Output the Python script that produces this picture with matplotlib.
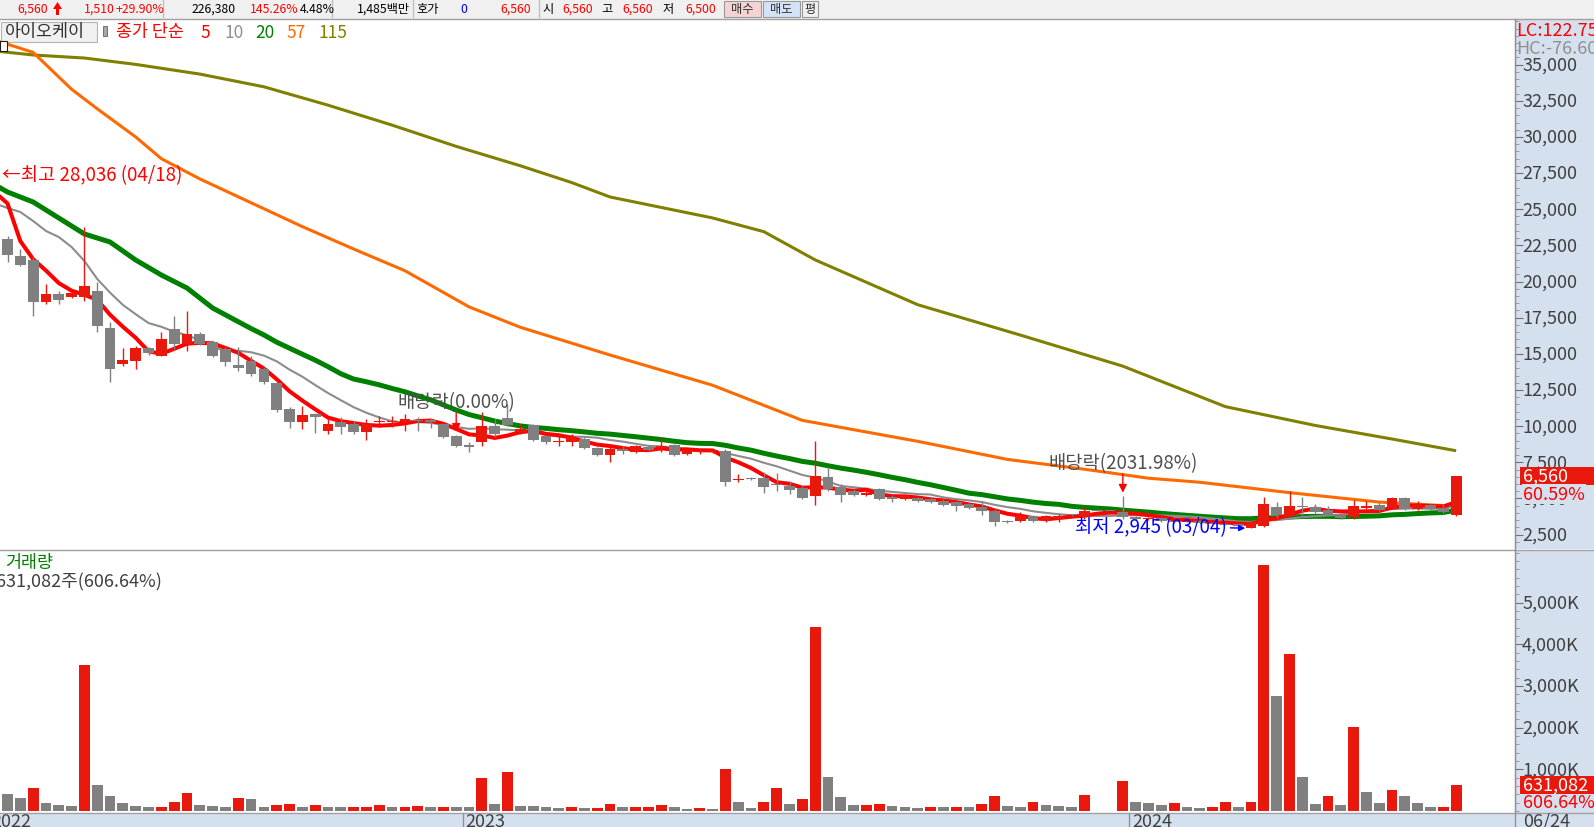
import numpy as np
import matplotlib
matplotlib.use("Agg")
import matplotlib.pyplot as plt
from matplotlib.patches import Rectangle, Polygon
from matplotlib.lines import Line2D
from matplotlib.ticker import FixedLocator, MultipleLocator
import matplotlib.transforms as mtransforms

plt.rcParams['font.family'] = ['Noto Sans CJK KR', 'DejaVu Sans']

# ---------------------------------------------------------------- data
week_index = list(range(-1, 114))          # weekly bars, 2022-04-18 .. 2024-06-24

opens = [22480,
         22943, 21789, 21491, 18607, 19140, 18912, 18912, 19327, 16788, 14299,
         14527, 15384, 14873, 16719, 15682, 16373, 15799, 15336, 14230, 14527,
         13953, 12985, 11186, 10308, 10841, 9644, 10308, 10149, 9575, 10270,
         10330, 10267, 10450, 10450, 10149, 9340, 8650, 8925, 9990, 10543,
         9575, 10080, 9340, 8880, 8880, 9112, 8469, 8005, 8420, 8233,
         8540, 8470, 8697, 8074, 8192, 8250, 8303, 6300, 6420, 6394,
         6000, 5882, 5702, 5149, 6463, 5771, 5536, 5239, 5654, 5050,
         4962, 5030, 4962, 4844, 4734, 4616, 4388, 4153, 3420, 3461,
         3766, 3461, 3579, 3900, 3696, 4153, 4153, 4084, 3700, 3580,
         3650, 3461, 3392, 3461, 3300, 3250, 3200, 2960, 3074, 4388,
         3807, 4470, 4430, 4222, 3925, 3740, 4320, 4550, 4319, 5030,
         4270, 4568, 4340, 3856]
highs = [28036,
         23151, 22252, 21700, 19832, 19368, 19300, 23774, 19970, 17203, 15384,
         15564, 15500, 16533, 17639, 17985, 16500, 15900, 15474, 15454, 14873,
         14100, 13100, 11300, 11415, 10900, 10495, 10612, 10377, 10495, 10720,
         10720, 10841, 10612, 10543, 10200, 9400, 8925, 10958, 10495, 11532,
         10149, 10149, 9400, 9340, 9457, 9230, 8550, 8766, 8607, 8700,
         8700, 9229, 8800, 8450, 8400, 8450, 8420, 6690, 6500, 6809,
         6760, 6230, 5882, 8994, 7154, 6000, 5650, 5500, 5750, 5239,
         5250, 5100, 5050, 4962, 4844, 4700, 4844, 4270, 3500, 4084,
         3850, 3850, 3925, 3950, 4388, 4153, 4153, 5190, 3766, 3700,
         3700, 3500, 3550, 3500, 3350, 3300, 3250, 3400, 5080, 4734,
         5536, 5080, 4616, 4457, 4000, 4893, 4844, 4734, 5100, 5080,
         4844, 4650, 4616, 6560]
lows = [21500,
        21353, 21097, 17618, 18448, 18448, 18850, 18676, 16512, 13054, 14181,
        13953, 14950, 14831, 15336, 15218, 15600, 14780, 14181, 13835, 13490,
        12900, 11000, 9852, 9803, 9500, 9457, 9457, 9457, 9063, 9921,
        9921, 9690, 9690, 9852, 9200, 8550, 8192, 8607, 9229, 10030,
        9457, 9000, 8766, 8650, 8650, 8400, 7950, 7542, 8050, 8150,
        8250, 8192, 7950, 8000, 8100, 8150, 5882, 6120, 6300, 5377,
        5540, 5310, 4962, 4547, 5536, 4734, 5150, 5150, 4900, 4775,
        4900, 4780, 4680, 4457, 4111, 4250, 3856, 3116, 3300, 3392,
        3400, 3400, 3350, 3800, 3579, 4153, 4153, 3579, 3500, 3500,
        3400, 3300, 3350, 3250, 3200, 3150, 3050, 2945, 3005, 3630,
        3696, 3696, 4000, 3800, 3600, 3579, 4250, 4150, 4250, 4200,
        4200, 4200, 3990, 3800]
closes = [23080,
          21837, 21146, 18607, 19140, 18746, 19209, 19714, 16906, 13953, 14596,
          15384, 15059, 16028, 15682, 16373, 15682, 14873, 14416, 14022, 13607,
          13030, 11138, 10267, 10792, 10612, 10149, 9921, 9575, 10149, 10377,
          10377, 10495, 10360, 10308, 9271, 8607, 8607, 9990, 9457, 10080,
          9803, 9063, 8925, 8994, 9230, 8469, 8005, 8420, 8303, 8607,
          8372, 8607, 8005, 8372, 8300, 8330, 6159, 6345, 6394, 5771,
          5951, 5605, 5011, 6532, 5654, 5239, 5239, 5350, 4962, 5011,
          5149, 4844, 4734, 4568, 4457, 4319, 4153, 3392, 3380, 3807,
          3461, 3766, 3807, 3856, 4153, 4153, 4153, 3696, 3580, 3650,
          3461, 3392, 3461, 3300, 3250, 3200, 3100, 3350, 4616, 3856,
          4500, 4430, 4084, 3856, 3650, 4457, 4500, 4222, 5030, 4270,
          4568, 4270, 4085, 6560]
volumes = [4768000,
           400000, 304000, 544000, 184000, 144000, 120000, 3504000, 624000, 360000, 184000,
           120000, 88000, 92000, 208000, 424000, 144000, 120000, 88000, 304000, 280000,
           88000, 136000, 160000, 88000, 136000, 88000, 86000, 90000, 92000, 136000,
           88000, 90000, 112000, 88000, 90000, 88000, 86000, 784000, 160000, 928000,
           112000, 110000, 88000, 64000, 88000, 64000, 66000, 160000, 88000, 90000,
           92000, 136000, 88000, 40000, 64000, 40000, 1000000, 208000, 64000, 208000,
           544000, 160000, 280000, 4408000, 808000, 328000, 136000, 140000, 160000, 112000,
           88000, 64000, 88000, 86000, 90000, 88000, 160000, 352000, 112000, 88000,
           208000, 136000, 112000, 88000, 384000, 0, 0, 712000, 208000, 184000,
           136000, 184000, 96000, 72000, 96000, 208000, 96000, 208000, 5904000, 2752000,
           3760000, 808000, 160000, 352000, 136000, 2008000, 448000, 184000, 496000, 352000,
           184000, 85000, 89308, 631082]

# moving-average lead-in values (before enough bars exist)
ma5_lead_idx = [-1, 0, 1, 2]
ma5_lead_val = [26200, 25400, 22800, 21550]
ma10_lead_idx = [-1, 0, 1, 2, 3, 4, 5, 6, 7]
ma10_lead_val = [25400, 25090, 24810, 24190, 23500, 23080, 22390, 21420, 20180]
ma20_lead_idx = [-1, 0, 2, 4, 6, 8, 10, 12, 14, 16]
ma20_lead_val = [26700, 26194, 25503, 24397, 23290, 22736, 21491, 20454, 19555, 18172]
ma57_idx = [-1, 2, 5, 7, 10, 12, 15, 19, 23, 27, 31, 36, 40, 47, 55, 62, 71, 78, 84, 89, 93, 100, 107, 113]
ma57_val = [36700, 35850, 33300, 31950, 30000, 28500, 27100, 25450, 23800, 22250, 20750, 18250,
            16840, 14920, 12830, 10400, 8950, 7700, 7020, 6400, 6120, 5400, 4750, 4460]
ma115_idx = [-1, 2, 6, 10, 15, 20, 25, 30, 35, 40, 44, 47, 55, 59, 63, 71, 79, 87, 95, 102, 108, 113]
ma115_val = [35950, 35670, 35460, 35020, 34350, 33470, 32200, 30820, 29350, 28010, 26850,
             25850, 24400, 23450, 21500, 18400, 16300, 14150, 11350, 10050, 9110, 8300]

exdiv_idx = [35, 87]
exdiv_pct = [0.00, 2031.98]
high_idx, high_label = -1, "04/18"
low_idx, low_label = 97, "03/04"
year_labels = ["2022", "2023", "2024"]
year_first_week = [-1, 36, 88]
last_date = "06/24"
price_ticks = [2500, 5000, 7500, 10000, 12500, 15000, 17500, 20000, 22500, 25000,
               27500, 30000, 32500, 35000]
volume_ticks = [1000000, 2000000, 3000000, 4000000, 5000000]
header_items = [("6,560", "red"), ("1,510", "red"), ("+29.90%", "red"),
                ("226,380", "black"), ("145.26%", "red"), ("4.48%", "black"),
                ("1,485백만", "black"), ("호가", "black"), ("0", "blue"), ("6,560", "red"),
                ("시", "black"), ("6,560", "red"), ("고", "black"), ("6,560", "red"),
                ("저", "black"), ("6,500", "red")]
stock_name = "아이오케이"
ma_periods = [5, 10, 20, 57, 115]

# ---------------------------------------------------------------- style
W, H = 1594, 828
RED_C = '#e8190c'
GRAY_C = '#808080'
MA_COL = {5: '#ff0000', 10: '#8c8c8c', 20: '#008000', 57: '#ff6a00', 115: '#808000'}
MA_LW = {5: 2.9, 10: 1.5, 20: 3.6, 57: 2.2, 115: 2.2}
PANEL_BG = '#d5e0ef'
TXT = '#404040'
FS = 13.5


def fx(px):
    return px / W


def fy(py):
    return 1 - py / H


fig = plt.figure(figsize=(W / 100, H / 100), dpi=100)
fig.patch.set_facecolor('white')

ax_p = fig.add_axes([0, fy(550), fx(1515), (550 - 20) / H])
ax_v = fig.add_axes([0, fy(814), fx(1515), (814 - 551) / H], sharex=ax_p)
ax_ps = fig.add_axes([fx(1515), fy(550), 1 - fx(1515), (550 - 20) / H], sharey=ax_p)
ax_vs = fig.add_axes([fx(1515), fy(814), 1 - fx(1515), (814 - 551) / H], sharey=ax_v)

SP = 12.82
ax_p.set_xlim(-7.5 / SP, (1515 - 7.5) / SP)
ax_p.set_ylim(1504, 38159)
ax_v.set_ylim(-48000, 6263500)

for a in (ax_p, ax_v):
    for s in a.spines.values():
        s.set_visible(False)
    a.tick_params(which='both', left=False, bottom=False, labelleft=False, labelbottom=False)
for a in (ax_ps, ax_vs):
    a.set_facecolor(PANEL_BG)
    a.set_xlim(0, 1)
    for k, s in a.spines.items():
        s.set_visible(k == 'left')
    a.spines['left'].set_color('#909090')
    a.tick_params(axis='x', which='both', bottom=False, labelbottom=False)
    a.tick_params(axis='y', which='major', direction='in', left=True, length=6, color='#707070',
                  labelleft=False, right=False, labelright=False)
    a.tick_params(axis='y', which='minor', direction='in', left=True, length=3, color='#909090')

ax_ps.yaxis.set_major_locator(FixedLocator(price_ticks))
ax_ps.yaxis.set_minor_locator(MultipleLocator(500))
ax_vs.yaxis.set_major_locator(FixedLocator(volume_ticks))
ax_vs.yaxis.set_minor_locator(MultipleLocator(200000))
ax_p.tick_params(which='both', left=False, labelleft=False)
ax_v.tick_params(which='both', left=False, labelleft=False)

x = np.array(week_index, float)
o = np.array(opens, float)
h = np.array(highs, float)
l = np.array(lows, float)
c = np.array(closes, float)
v = np.array(volumes, float)


def sma(vals, n):
    out = np.full(vals.shape, np.nan)
    out[n - 1:] = np.convolve(vals, np.ones(n) / n, mode='valid')
    return out


ma_lines = {}
for n, li, lv in ((5, ma5_lead_idx, ma5_lead_val), (10, ma10_lead_idx, ma10_lead_val),
                  (20, ma20_lead_idx, ma20_lead_val)):
    m = sma(c, n)
    ma_lines[n] = (np.r_[li, x[n - 1:]], np.r_[lv, m[n - 1:]])
ma_lines[57] = (np.array(ma57_idx, float), np.array(ma57_val, float))
ma_lines[115] = (np.array(ma115_idx, float), np.array(ma115_val, float))

for z, n in enumerate([115, 57, 20, 10, 5]):
    xs, ys = ma_lines[n]
    ax_p.plot(xs, ys, color=MA_COL[n], lw=MA_LW[n], zorder=2 + z * 0.1,
              solid_capstyle='butt', solid_joinstyle='round')

# candles
up = c > o
ccol = np.where(up, RED_C, GRAY_C)
ax_p.vlines(x, l, h, colors=ccol, linewidth=1.0, zorder=5)
body = np.maximum(np.abs(c - o), 75)
mid = (o + c) / 2
ax_p.bar(x, body, bottom=mid - body / 2, width=0.84, color=ccol, linewidth=0, zorder=6)

# volume
vol_up = np.r_[True, v[1:] > v[:-1]]
ax_v.bar(x, v, width=0.84, color=np.where(vol_up, RED_C, GRAY_C), linewidth=0)

# ---------------------------------------------------------------- annotations
px2pt = 0.72
hi_pos = week_index.index(high_idx)
ax_p.text(ax_p.get_xlim()[0], h[hi_pos], f"←최고 {h[hi_pos]:,.0f} ({high_label})",
          color='#ff0000', fontsize=FS, va='top', ha='left', zorder=10,
          transform=ax_p.transData + mtransforms.ScaledTranslation(1.5 / 100, 1.5 / 100, fig.dpi_scale_trans))

lo_pos = week_index.index(low_idx)
ax_p.annotate(f"최저 {l[lo_pos]:,.0f} ({low_label})", xy=(low_idx - 0.45, l[lo_pos]),
              xytext=(-19 * px2pt, 2 * px2pt), textcoords='offset points', ha='right', va='center',
              color='#0000ff', fontsize=FS, zorder=10,
              arrowprops=dict(arrowstyle='-|>', color='#0000ff', lw=1.0, shrinkA=1, shrinkB=0,
                              mutation_scale=9))

for ie, pct in zip(exdiv_idx, exdiv_pct):
    hh = h[week_index.index(ie)]
    ax_p.annotate("", xy=(ie, hh), xytext=(0, 22 * px2pt), textcoords='offset points',
                  arrowprops=dict(arrowstyle='-|>', color='#ff0000', lw=1.0, shrinkA=0,
                                  shrinkB=3 * px2pt, mutation_scale=12), zorder=9)
    ax_p.annotate(f"배당락({pct:.2f}%)", xy=(ie, hh), xytext=(0, 23 * px2pt),
                  textcoords='offset points', ha='center', va='bottom', color='#505050',
                  fontsize=FS, zorder=10)

# ---------------------------------------------------------------- right scales
ytr_p = ax_ps.get_yaxis_transform()
for t in price_ticks:
    ax_ps.text(0.09, t, f"{t:,}", transform=ytr_p, va='center', ha='left', color=TXT,
               fontsize=13, zorder=3)
ytr_v = ax_vs.get_yaxis_transform()
for t in volume_ticks:
    ax_vs.text(0.09, t, f"{t // 1000:,}K", transform=ytr_v, va='center', ha='left', color=TXT,
               fontsize=13, zorder=3)

last_c, prev_c = c[-1], c[-2]
pct_c = (last_c / prev_c - 1) * 100
ax_ps.add_patch(Rectangle((0.06, last_c - 640), 0.94, 1280, transform=ytr_p,
                          facecolor=RED_C, edgecolor='none', zorder=4))
ax_ps.text(0.10, last_c, f"{last_c:,.0f}", transform=ytr_p, va='center', ha='left',
           color='white', fontsize=13, zorder=5)
ax_ps.annotate(f"{pct_c:.2f}%", xy=(0.10, last_c), xycoords=ytr_p, xytext=(0, -18.5 * px2pt),
               textcoords='offset points', va='center', ha='left', color='#ff0000', fontsize=13,
               zorder=5, bbox=dict(boxstyle='square,pad=0.05', fc=PANEL_BG, ec='none'))

last_v, prev_v = v[-1], v[-2]
pct_v = (last_v / prev_v - 1) * 100
ax_vs.add_patch(Rectangle((0.06, last_v - 216000), 0.94, 432000, transform=ytr_v,
                          facecolor=RED_C, edgecolor='none', zorder=4))
ax_vs.text(0.10, last_v, f"{last_v:,.0f}", transform=ytr_v, va='center', ha='left',
           color='white', fontsize=13, zorder=5)
ax_vs.annotate(f"{pct_v:.2f}%", xy=(0.10, last_v), xycoords=ytr_v, xytext=(0, -17 * px2pt),
               textcoords='offset points', va='center', ha='left', color='#ff0000', fontsize=13,
               zorder=5)

lc = (last_c / l.min() - 1) * 100
hc = (last_c / h.max() - 1) * 100
fig.text(fx(1516), fy(31), f"LC:{lc:.2f}%", color='#ff0000', fontsize=13, va='center', ha='left')
fig.text(fx(1516), fy(49), f"HC:{hc:.2f}%", color='#909090', fontsize=13, va='center', ha='left')

# ---------------------------------------------------------------- header bar
fig.patches.append(Rectangle((0, fy(19.5)), 1, 19.5 / H, transform=fig.transFigure,
                             facecolor='#f0f0f0', edgecolor='none', zorder=-1))
fig.lines.append(Line2D([0, 1], [fy(19.5)] * 2, transform=fig.transFigure, color='#a0a0a0', lw=1))
hx = [17, 84, 115, 192, 250, 300, 357, 416, 460, 500, 542, 562, 601, 622, 663, 685]
for (txt, col), px in zip(header_items, hx):
    fig.text(fx(px), fy(9.5), txt, color=col, fontsize=8.8, va='center', ha='left')
# red up-arrow icon next to the price
arrow_pts = [(53, 10), (57.5, 3), (62, 10), (59, 10), (59, 16), (56, 16), (56, 10)]
fig.patches.append(Polygon([(fx(px_), fy(py_)) for px_, py_ in arrow_pts], closed=True,
                           transform=fig.transFigure, facecolor='#ff0000', edgecolor='none',
                           zorder=2))
for sx in (163, 332, 413, 539):
    fig.lines.append(Line2D([fx(sx)] * 2, [fy(1), fy(18)], transform=fig.transFigure,
                            color='#c0c0c0', lw=1))
for (bx0, bx1, bc, bt) in ((724, 761, '#f5d3d3', '매수'), (763, 800, '#d3e3f5', '매도'),
                           (802, 818, '#f0f0f0', '평')):
    fig.patches.append(Rectangle((fx(bx0), fy(18)), fx(bx1 - bx0), 16 / H,
                                 transform=fig.transFigure, facecolor=bc, edgecolor='#9a9a9a',
                                 lw=0.8, zorder=1))
    fig.text(fx((bx0 + bx1) / 2), fy(9.5), bt, color='#303030', fontsize=8.8, va='center',
             ha='center', zorder=2)

# ---------------------------------------------------------------- legend row
fig.patches.append(Rectangle((fx(0.5), fy(42.5)), fx(96.5), 20 / H, transform=fig.transFigure,
                             facecolor='#f0f0f0', edgecolor='#b4b4b4', lw=0.8, zorder=4))
fig.text(fx(5), fy(32.5), stock_name, color='#303030', fontsize=12.5, va='center', ha='left',
         zorder=5)
fig.patches.append(Rectangle((fx(103), fy(37)), fx(4), 10 / H, transform=fig.transFigure,
                             facecolor='#a8a8a8', edgecolor='#606060', lw=0.6, zorder=4))
fig.text(fx(116), fy(32.5), "종가 단순", color='#ff0000', fontsize=12.5, va='center', ha='left',
         zorder=5)
for n, px in zip(ma_periods, [200, 224, 255, 286, 318]):
    fig.text(fx(px), fy(32.5), str(n), color=MA_COL[n] if n != 10 else '#909090',
             fontsize=12.5, va='center', ha='left', zorder=5)
fig.patches.append(Rectangle((fx(0), fy(52)), fx(7), 10 / H, transform=fig.transFigure,
                             facecolor='white', edgecolor='#202020', lw=0.8, zorder=4))

# volume title
fig.text(fx(5), fy(563), "거래량", color='#008000', fontsize=12.5, va='center', ha='left')
fig.text(fx(-4), fy(582.5), f"{last_v:,.0f}주({pct_v:.2f}%)", color=TXT, fontsize=13,
         va='center', ha='left')

# ---------------------------------------------------------------- separators & bottom strip
fig.lines.append(Line2D([0, 1], [fy(550.5)] * 2, transform=fig.transFigure, color='#a0a0a0', lw=1))
fig.patches.append(Rectangle((0, 0), 1, 14 / H, transform=fig.transFigure,
                             facecolor=PANEL_BG, edgecolor='none', zorder=-1))
fig.lines.append(Line2D([0, 1], [fy(814)] * 2, transform=fig.transFigure, color='#a0a0a0', lw=1))
fig.lines.append(Line2D([fx(1515)] * 2, [0, fy(20)], transform=fig.transFigure,
                        color='#909090', lw=1))

strip = mtransforms.blended_transform_factory(ax_v.transData, fig.transFigure)
shift = mtransforms.ScaledTranslation(3 / 100, 0, fig.dpi_scale_trans)
for yl, i0 in zip(year_labels, year_first_week):
    xb = i0 - 0.5
    ax_v.plot([xb, xb], [0, fy(814)], transform=strip, color='#909090', lw=1, clip_on=False)
    ax_v.text(xb, fy(813), yl, transform=strip + shift, color=TXT, fontsize=13, va='top',
              ha='left', clip_on=False)
fig.text(fx(1523), fy(813), last_date, color=TXT, fontsize=13, va='top', ha='left')

fig.savefig("out.png", dpi=100, facecolor='white')
